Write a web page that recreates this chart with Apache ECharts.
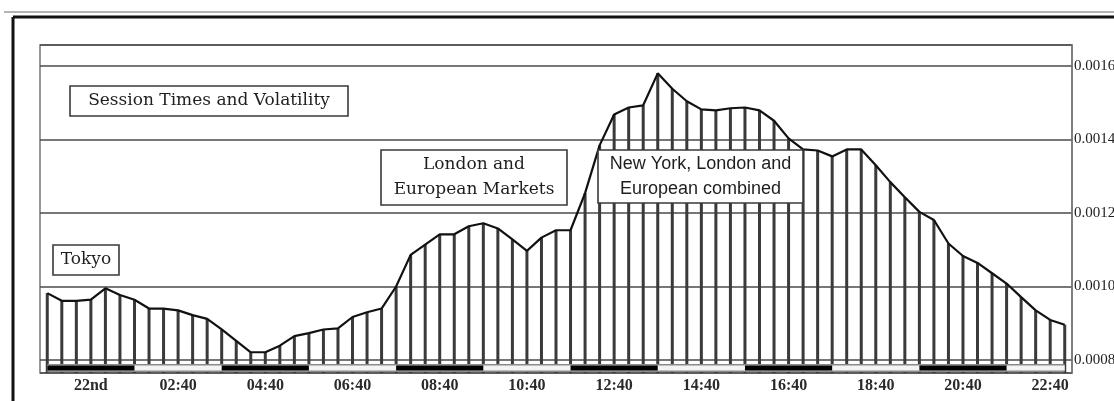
<!DOCTYPE html>
<html>
<head>
<meta charset="utf-8">
<script src="https://cdn.jsdelivr.net/npm/echarts@6/dist/echarts.min.js"></script>
<style>
html,body{margin:0;padding:0;background:#fff;}
#chart{width:1114px;height:401px;}
</style>
</head>
<body>
<div id="chart"></div>
<script>
// 20-minute intervals, 23:40 (21st) to 23:00 (22nd)
const categories = [
  '23:40','00:00','00:20','00:40','01:00','01:20','01:40','02:00','02:20','02:40',
  '03:00','03:20','03:40','04:00','04:20','04:40','05:00','05:20','05:40','06:00',
  '06:20','06:40','07:00','07:20','07:40','08:00','08:20','08:40','09:00','09:20',
  '09:40','10:00','10:20','10:40','11:00','11:20','11:40','12:00','12:20','12:40',
  '13:00','13:20','13:40','14:00','14:20','14:40','15:00','15:20','15:40','16:00',
  '16:20','16:40','17:00','17:20','17:40','18:00','18:20','18:40','19:00','19:20',
  '19:40','20:00','20:20','20:40','21:00','21:20','21:40','22:00','22:20','22:40',
  '23:00'
];

// volatility per 20-minute bar
const volatility = [
  0.000982,0.000961,0.000961,0.000964,0.000995,0.000977,0.000964,0.000940,0.000940,0.000935,
  0.000922,0.000912,0.000883,0.000852,0.000821,0.000821,0.000839,0.000865,0.000873,0.000883,
  0.000886,0.000917,0.000930,0.000940,0.001000,0.001086,0.001114,0.001142,0.001142,0.001164,
  0.001172,0.001158,0.001128,0.001097,0.001133,0.001153,0.001153,0.001254,0.001384,0.001468,
  0.001487,0.001493,0.001580,0.001538,0.001504,0.001482,0.001479,0.001485,0.001487,0.001479,
  0.001451,0.001403,0.001373,0.001370,0.001354,0.001373,0.001373,0.001330,0.001284,0.001243,
  0.001203,0.001181,0.001117,0.001083,0.001064,0.001036,0.001008,0.000971,0.000935,0.000909,
  0.000896
];

// x tick labels shown every 2 hours
const tickLabels = {
  '00:40':'22nd','02:40':'02:40','04:40':'04:40','06:40':'06:40','08:40':'08:40','10:40':'10:40',
  '12:40':'12:40','14:40':'14:40','16:40':'16:40','18:40':'18:40','20:40':'20:40','22:40':'22:40'
};

// y tick labels
const yTicks = ['0.0008','0.0010','0.0012','0.0014','0.0016'];

// alternating 2-hour session strip (index ranges drawn black)
const sessionBlocks = [[0,6],[12,18],[24,30],[36,42],[48,54],[60,66]];

// annotations
const annotations = [
  {text:'Session Times and Volatility', kind:'serif'},
  {text:'Tokyo', kind:'serif'},
  {text:'London and\nEuropean Markets', kind:'serif'},
  {text:'New York, London and\nEuropean combined', kind:'sans'}
];

const STRIP = 0.0152;
const stripAll = categories.map(() => STRIP);
const stripBlack = categories.map((c, i) =>
  sessionBlocks.some(b => i >= b[0] && i <= b[1]) ? STRIP : null);

const chart = echarts.init(document.getElementById('chart'), null, {renderer:'canvas'});

const serif = 'DejaVu Serif';
const boxes = [
  {x:70, y:86, w:278, h:30, a:annotations[0]},
  {x:53, y:245, w:66, h:30, a:annotations[1]},
  {x:381, y:150, w:186, h:55, a:annotations[2]},
  {x:598, y:150, w:205, h:53, a:annotations[3]}
];
const graphics = [
  {type:'line', shape:{x1:4,y1:12,x2:1114,y2:12}, style:{stroke:'#9a9a9a', lineWidth:1.5}, z:100},
  {type:'line', shape:{x1:13,y1:17,x2:1114,y2:17}, style:{stroke:'#111', lineWidth:3}, z:100},
  {type:'line', shape:{x1:13,y1:17,x2:13,y2:401}, style:{stroke:'#111', lineWidth:3}, z:100}
];
boxes.forEach(b => {
  graphics.push({type:'rect', shape:{x:b.x, y:b.y, width:b.w, height:b.h},
    style:{fill:'#fff', stroke:'#3a3a3a', lineWidth:1.6}, z:100});
  graphics.push({type:'text', x:b.x + b.w/2, y:b.y + b.h/2, z:101,
    style:{text:b.a.text, align:'center', verticalAlign:'middle',
      fontFamily: b.a.kind === 'sans' ? 'Liberation Sans' : serif,
      fontSize: b.a.kind === 'sans' ? 18 : 17, lineHeight:25, fill:'#1e1e1e'}});
});

chart.setOption({
  animation:false,
  backgroundColor:'#fff',
  grid:{left:40, right:42, top:45, bottom:28, show:true, borderColor:'#777', borderWidth:1.5,
    backgroundColor:'transparent', containLabel:false, outerBoundsMode:'none'},
  xAxis:{
    type:'category', data:categories, boundaryGap:true,
    axisLine:{show:false}, axisTick:{show:false},
    axisLabel:{
      interval:(i, v) => tickLabels[v] !== undefined,
      formatter:v => tickLabels[v] || '',
      fontFamily:'Liberation Serif', fontWeight:'bold', fontSize:16, color:'#2a2a2a', margin:5
    },
    splitLine:{show:false}
  },
  yAxis:[{
    type:'value', position:'right', min:0.0007646, max:0.0016571, splitNumber:5,
    axisLine:{show:true, lineStyle:{color:'#777', width:1.5}},
    axisTick:{show:false},
    axisLabel:{
      showMinLabel:false, showMaxLabel:false, margin:2,
      formatter:v => { const s = v.toFixed(4); return yTicks.indexOf(s) >= 0 ? s : ''; },
      fontFamily:'Liberation Serif', fontSize:15, color:'#222'
    },
    splitLine:{show:true, lineStyle:{color:'#4a4a4a', width:1.6}}
  },{
    type:'value', min:0, max:1, show:false, splitLine:{show:false}
  }],
  series:[
    {type:'bar', data:volatility, barWidth:3, itemStyle:{color:'#3a3a3a'}, z:2, silent:true},
    {type:'line', data:volatility, symbol:'none', lineStyle:{color:'#111', width:2.2}, z:10, silent:true},
    {type:'line', yAxisIndex:1, data:stripAll, symbol:'none', lineStyle:{color:'#8a8a8a', width:8, cap:'butt'}, z:4, silent:true},
    {type:'line', yAxisIndex:1, data:stripAll, symbol:'none', lineStyle:{color:'#f4f4f4', width:5, cap:'butt'}, z:5, silent:true},
    {type:'line', yAxisIndex:1, data:stripBlack, symbol:'none', connectNulls:false, lineStyle:{color:'#000', width:5, cap:'butt'}, z:6, silent:true}
  ],
  graphic:graphics
});
</script>
</body>
</html>
